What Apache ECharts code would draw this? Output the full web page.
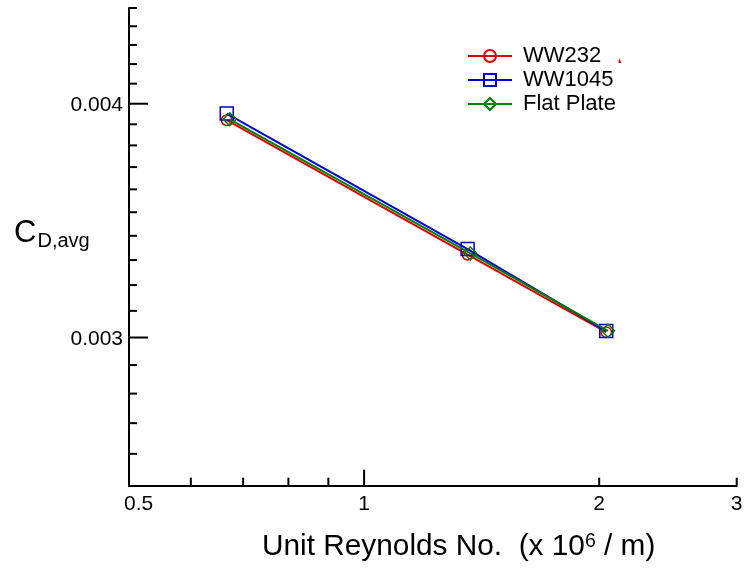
<!DOCTYPE html>
<html><head><meta charset="utf-8">
<script src="https://cdn.jsdelivr.net/npm/echarts@6/dist/echarts.min.js"></script>
<style>html,body{margin:0;padding:0;background:#fff}#c{width:745px;height:569px}</style>
</head><body><div id="c"></div>
<script>
// ---- data ----
const seriesNames = ['WW232', 'WW1045', 'Flat Plate'];
const ww232X = [0.667, 1.357, 2.042];
const ww232Y = [0.003920, 0.003322, 0.003020];
const ww1045X = [0.667, 1.357, 2.042];
const ww1045Y = [0.003952, 0.003345, 0.003024];
const flatX = [0.673, 1.368, 2.053];
const flatY = [0.003924, 0.003327, 0.003025];

const xRange = [0.5, 3];
const yRange = [0.0025, 0.0045];
const xMajorTicks = [1];
const xMinorTicks = [0.6, 0.7, 0.8, 0.9, 2, 3];
const xLabelValues = [0.5, 1, 2, 3];
const xLabelTexts = ['0.5', '1', '2', '3'];
const yMajorTicks = [0.003, 0.004];
const yMinorTicks = [0.0026, 0.0027, 0.0028, 0.0029, 0.0031, 0.0032, 0.0033, 0.0034, 0.0035, 0.0036, 0.0037, 0.0038, 0.0039, 0.0041, 0.0042, 0.0043, 0.0044, 0.0045];
const yLabelValues = [0.003, 0.004];
const yLabelTexts = ['0.003', '0.004'];

const FONT = '"Liberation Sans", Arial, sans-serif';
const pair = (xs, ys) => xs.map((x, i) => [x, ys[i]]);

function renderTicks(params, api) {
  if (params.dataIndex !== 0) return null;
  const children = [];
  const tk = (x1, y1, x2, y2) => children.push({
    type: 'line', shape: { x1, y1, x2, y2 }, style: { stroke: '#000', lineWidth: 2 }
  });
  xMajorTicks.forEach(v => { const p = api.coord([v, yRange[0]]); tk(p[0], p[1], p[0], p[1] - 16); });
  xMinorTicks.forEach(v => { const p = api.coord([v, yRange[0]]); tk(p[0], p[1], p[0], p[1] - 8); });
  yMajorTicks.forEach(v => { const p = api.coord([xRange[0], v]); tk(p[0], p[1], p[0] + 19, p[1]); });
  yMinorTicks.forEach(v => { const p = api.coord([xRange[0], v]); tk(p[0], p[1], p[0] + 8, p[1]); });
  xLabelValues.forEach((v, i) => {
    const p = api.coord([v, yRange[0]]);
    children.push({
      type: 'text', x: i === 0 ? p[0] - 5 : p[0], y: p[1] + 19,
      style: { text: xLabelTexts[i], fontSize: 21, fontFamily: FONT, fill: '#000',
        align: i === 0 ? 'left' : 'center', verticalAlign: 'middle' }
    });
  });
  yLabelValues.forEach((v, i) => {
    const p = api.coord([xRange[0], v]);
    children.push({
      type: 'text', x: p[0] - 6, y: p[1] + 1.5,
      style: { text: yLabelTexts[i], fontSize: 21, fontFamily: FONT, fill: '#000',
        align: 'right', verticalAlign: 'middle' }
    });
  });
  return { type: 'group', children };
}

const colors = ['#e00000', '#0000d8', '#008000'];
const symbols = ['circle', 'rect', 'diamond'];
const symSizes = [10.5, 13, 13];
const datas = [pair(ww232X, ww232Y), pair(ww1045X, ww1045Y), pair(flatX, flatY)];

const lineSeries = seriesNames.map((name, i) => ({
  name, type: 'line', data: datas[i],
  symbol: symbols[i], symbolSize: symSizes[i], showSymbol: true,
  lineStyle: { color: colors[i], width: 2 },
  itemStyle: { color: 'transparent', borderColor: colors[i], borderWidth: 1.5 },
  z: 3 + i, animation: false
}));

const chart = echarts.init(document.getElementById('c'), null, { renderer: 'canvas' });
chart.setOption({
  backgroundColor: '#fff',
  animation: false,
  grid: { left: 129, top: 8, width: 607.7, height: 477.7, containLabel: false },
  xAxis: {
    type: 'log', logBase: 10, min: xRange[0], max: xRange[1],
    axisLine: { show: true, onZero: false, lineStyle: { color: '#000', width: 2 } },
    axisTick: { show: false }, axisLabel: { show: false }, splitLine: { show: false }, minorTick: { show: false }
  },
  yAxis: {
    type: 'log', logBase: 10, min: yRange[0], max: yRange[1],
    axisLine: { show: true, onZero: false, lineStyle: { color: '#000', width: 2 } },
    axisTick: { show: false }, axisLabel: { show: false }, splitLine: { show: false }, minorTick: { show: false }
  },
  legend: {
    orient: 'vertical', left: 467, top: 45, padding: 0,
    itemWidth: 44, itemHeight: 15, itemGap: 2,
    data: seriesNames,
    textStyle: { fontSize: 22, fontFamily: FONT, color: '#000', padding: [0, 0, 0, 6] }
  },
  graphic: [
    { type: 'text', x: 14, y: 233, style: { text: 'C', fontSize: 31, fontFamily: FONT, fill: '#000', align: 'left', verticalAlign: 'middle' } },
    { type: 'text', x: 37.5, y: 241, style: { text: 'D,avg', fontSize: 20, fontFamily: FONT, fill: '#000', align: 'left', verticalAlign: 'middle' } },
    { type: 'text', x: 262, y: 547, style: {
      text: '{a|Unit Reynolds No.  (x 10}{b|6}{a| / m)}', fill: '#000', verticalAlign: 'middle', align: 'left',
      rich: { a: { fontSize: 29.8, fontFamily: FONT, fill: '#000' }, b: { fontSize: 19.5, fontFamily: FONT, fill: '#000', verticalAlign: 'top' } }
    } },
    { type: 'polygon', shape: { points: [[619, 58], [621.5, 63], [618.5, 63]] }, style: { fill: '#e00000' } }
  ],
  series: [
    ...lineSeries,
    {
      type: 'custom', name: 'axes-ticks', renderItem: renderTicks, silent: true, z: 10,
      data: [[xRange[0], yRange[0]]], animation: false
    }
  ]
});
</script>
</body></html>
